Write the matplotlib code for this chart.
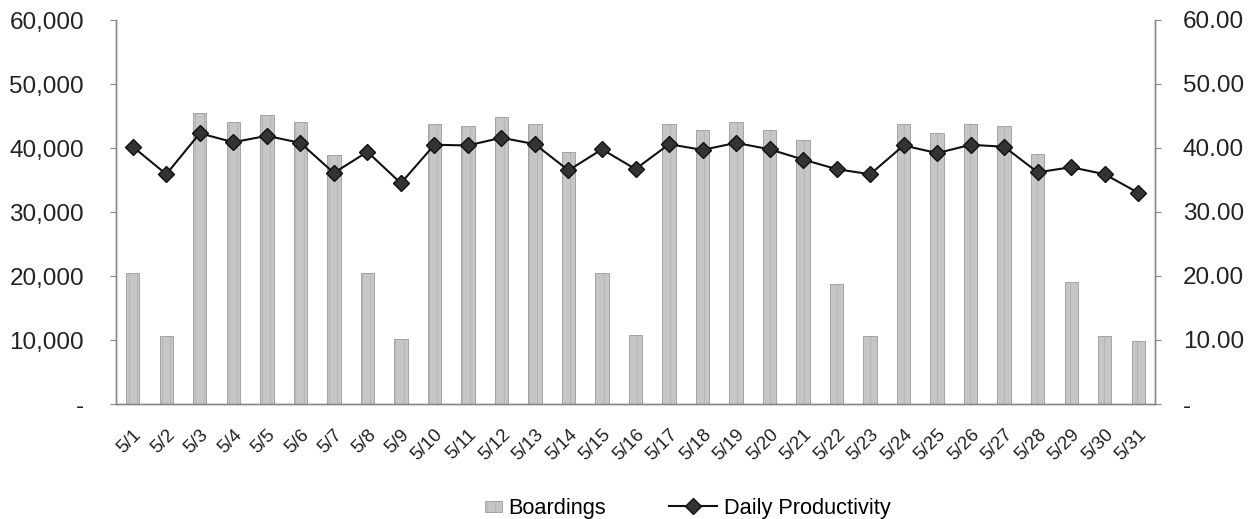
import matplotlib
matplotlib.use("Agg")
import matplotlib.pyplot as plt
from matplotlib.ticker import FuncFormatter
from matplotlib.patches import Rectangle
from matplotlib.legend_handler import HandlerPatch

plt.rcParams['font.family'] = ['Liberation Sans', 'DejaVu Sans']
plt.rcParams['hatch.linewidth'] = 0.3

dates = [f"5/{d}" for d in range(1, 32)]
boardings = [20500, 10600, 45400, 44000, 45200, 44000, 38900, 20400, 10100,
             43700, 43400, 44800, 43700, 39300, 20500, 10800, 43750, 42800,
             44000, 42760, 41200, 18750, 10600, 43800, 42400, 43800, 43400,
             39000, 19000, 10700, 9900]
productivity = [40.2, 35.9, 42.3, 40.9, 41.9, 40.8, 36.1, 39.4, 34.5,
                40.5, 40.4, 41.6, 40.6, 36.5, 39.8, 36.7, 40.6, 39.7,
                40.8, 39.8, 38.2, 36.7, 35.9, 40.4, 39.2, 40.5, 40.2,
                36.2, 37.0, 35.9, 33.0]
left_ticks = [0, 10000, 20000, 30000, 40000, 50000, 60000]
right_ticks = [0, 10, 20, 30, 40, 50, 60]

fig = plt.figure(figsize=(12.58, 5.19), dpi=100)
ax = fig.add_axes([116/1258, 1 - 404/519, (1155-116)/1258, (404-20)/519])
x = list(range(len(dates)))

bars = ax.bar(x, boardings, width=0.4, color='#c6c6c6', edgecolor='#9a9a9a',
              linewidth=0.6, hatch='||', label='Boardings', zorder=2)
for b in bars:
    b._hatch_color = (0.62, 0.62, 0.62, 1.0)

ax.set_xlim(-0.5, len(dates) - 0.5)
ax.set_ylim(0, 60000)
ax.set_yticks(left_ticks)
ax.yaxis.set_major_formatter(FuncFormatter(lambda v, p: '-' if v == 0 else f"{int(v):,}"))
ax.set_xticks(x)
ax.set_xticklabels(dates, rotation=45, ha='right', va='top', fontsize=13.5,
                   rotation_mode='anchor')
ax.tick_params(axis='x', length=0, pad=16, colors='#222222')
ax.tick_params(axis='y', labelsize=17.5, length=4, pad=19, colors='#222222', direction='out')

ax2 = ax.twinx()
ax2.set_ylim(0, 60)
ax2.set_yticks(right_ticks)
ax2.yaxis.set_major_formatter(FuncFormatter(lambda v, p: '-' if v == 0 else f"{v:.2f}"))
ax2.tick_params(axis='y', labelsize=17.5, length=4, pad=16, colors='#222222', direction='out')
ax2.plot(x, productivity, color='#111111', linewidth=1.5, marker='D', markersize=8,
         markerfacecolor='#333333', markeredgecolor='#111111', label='Daily Productivity', zorder=3)

for a in (ax, ax2):
    a.spines['top'].set_visible(False)
    for s in ('left', 'right', 'bottom'):
        a.spines[s].set_color('#888888')
        a.spines[s].set_linewidth(1.0)
ax.tick_params(axis='y', color='#888888')
ax2.tick_params(axis='y', color='#888888')


class SmallPatch(HandlerPatch):
    def create_artists(self, legend, orig_handle, xdescent, ydescent, width, height,
                       fontsize, trans):
        w, h = 12.2, 8.6
        p = Rectangle((width - w - xdescent, (height - h) / 2 - ydescent), w, h,
                      facecolor='#c6c6c6', edgecolor='#9a9a9a', linewidth=0.6,
                      hatch='||', transform=trans)
        p._hatch_color = (0.62, 0.62, 0.62, 1.0)
        return [p]


h1, l1 = ax.get_legend_handles_labels()
h2, l2 = ax2.get_legend_handles_labels()
fig.legend(h1 + h2, l1 + l2, loc='center', bbox_to_anchor=(0.5345, 0.02), ncol=2,
           frameon=False, fontsize=15.7, columnspacing=2.9, handlelength=2.2,
           handletextpad=0.3, handler_map={bars: SmallPatch()})

fig.savefig('out.png', dpi=100)
